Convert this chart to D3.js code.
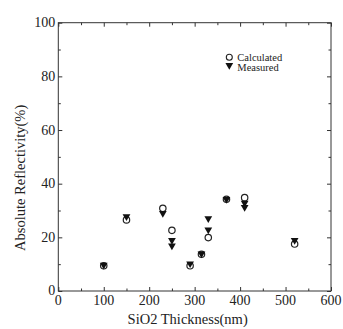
<!DOCTYPE html>
<html>
<head>
<meta charset="utf-8">
<script src="https://cdn.jsdelivr.net/npm/d3@7"></script>
<style>
    body { margin: 0; background: #fff; }
    text { font-family: "Liberation Serif", "Times New Roman", serif; fill: #222; }
    .axis path, .axis line { stroke: #333; }
</style>
</head>
<body>
<div id="chart"></div>
<script>
// calculated values (open circles)
var calcThickness = [100, 150, 230, 250, 290, 315, 330, 370, 410, 520];
var calcReflect   = [9.4, 26.5, 30.8, 22.6, 9.4, 13.7, 19.9, 34.2, 34.8, 17.5];

// measured values (filled triangles), some thicknesses measured twice
var measThickness = [100, 150, 230, 250, 250, 290, 315, 330, 330, 370, 410, 410, 520];
var measReflect   = [9.7, 27.8, 29.0, 18.9, 16.9, 10.2, 13.9, 27.0, 22.8, 34.2, 32.8, 31.2, 18.9];

var xTicks = [0, 100, 200, 300, 400, 500, 600];
var yTicks = [0, 20, 40, 60, 80, 100];
var legendNames = ["Calculated", "Measured"];

var margin = {top: 22.7, right: 12, bottom: 38, left: 58.3},
    width = 343 - margin.left - margin.right,
    height = 329 - margin.top - margin.bottom;

var svg = d3.select("#chart")
    .append("svg")
        .attr("width", 343)
        .attr("height", 329)
    .append("g")
        .attr("transform", "translate(" + margin.left + "," + margin.top + ")");

var x = d3.scaleLinear().domain([0, 600]).range([0, width]);
var y = d3.scaleLinear().domain([0, 100]).range([height, 0]);

// frame
svg.append("rect")
    .attr("width", width)
    .attr("height", height)
    .style("fill", "none")
    .style("stroke", "#333")
    .style("stroke-width", 1);

// inward ticks on all four sides
var xMinor = d3.range(50, 600, 100);
var yMinor = d3.range(10, 100, 20);

function tickSet(axis, vals, size) {
    return axis.tickValues(vals).tickSize(-size).tickFormat("");
}

svg.append("g").attr("class", "axis").attr("transform", "translate(0," + height + ")")
    .call(tickSet(d3.axisBottom(x), xTicks, 4));
svg.append("g").attr("class", "axis").attr("transform", "translate(0," + height + ")")
    .call(tickSet(d3.axisBottom(x), xMinor, 2.5));
svg.append("g").attr("class", "axis")
    .call(tickSet(d3.axisTop(x), xTicks, 4));
svg.append("g").attr("class", "axis")
    .call(tickSet(d3.axisTop(x), xMinor, 2.5));
svg.append("g").attr("class", "axis")
    .call(tickSet(d3.axisLeft(y), yTicks, 4));
svg.append("g").attr("class", "axis")
    .call(tickSet(d3.axisLeft(y), yMinor, 2.5));
svg.append("g").attr("class", "axis").attr("transform", "translate(" + width + ",0)")
    .call(tickSet(d3.axisRight(y), yTicks, 4));
svg.append("g").attr("class", "axis").attr("transform", "translate(" + width + ",0)")
    .call(tickSet(d3.axisRight(y), yMinor, 2.5));
svg.selectAll(".axis path.domain").remove();

// tick labels
svg.selectAll(".xlab")
    .data(xTicks)
    .enter().append("text")
    .attr("x", function(d) { return x(d); })
    .attr("y", height + 14)
    .style("text-anchor", "middle")
    .style("font-size", "14px")
    .text(function(d) { return d; });

svg.selectAll(".ylab")
    .data(yTicks)
    .enter().append("text")
    .attr("x", -3)
    .attr("y", function(d) { return y(d) + 4.5; })
    .style("text-anchor", "end")
    .style("font-size", "14px")
    .text(function(d) { return d; });

// axis titles
svg.append("text")
    .attr("x", width / 2 - 7)
    .attr("y", height + 33)
    .style("text-anchor", "middle")
    .style("font-size", "14.5px")
    .text("SiO2 Thickness(nm)");

svg.append("text")
    .attr("transform", "translate(-33," + (height / 2 + 21) + ") rotate(-90)")
    .style("text-anchor", "middle")
    .style("font-size", "14.5px")
    .text("Absolute Reflectivity(%)");

// markers
var tri = d3.symbol().type(d3.symbolTriangle).size(26);

svg.selectAll(".calc")
    .data(calcThickness)
    .enter().append("circle")
    .attr("cx", function(d) { return x(d); })
    .attr("cy", function(d, i) { return y(calcReflect[i]); })
    .attr("r", 3.2)
    .style("fill", "#fff")
    .style("stroke", "#222")
    .style("stroke-width", 1.2);

svg.selectAll(".meas")
    .data(measThickness)
    .enter().append("path")
    .attr("d", tri)
    .attr("transform", function(d, i) {
        return "translate(" + x(d) + "," + y(measReflect[i]) + ") rotate(180)";
    })
    .style("fill", "#111");

// legend
var legend = svg.append("g").attr("transform", "translate(171,34.5)");
legend.append("circle")
    .attr("cx", 0).attr("cy", 0).attr("r", 3)
    .style("fill", "#fff").style("stroke", "#222").style("stroke-width", 1.1);
legend.append("path")
    .attr("d", tri)
    .attr("transform", "translate(0,8) rotate(180)")
    .style("fill", "#111");
legend.selectAll(".lg")
    .data(legendNames)
    .enter().append("text")
    .attr("x", 8)
    .attr("y", function(d, i) { return i * 10 + 3.5; })
    .style("font-size", "10.5px")
    .text(function(d) { return d; });
</script>
</body>
</html>
